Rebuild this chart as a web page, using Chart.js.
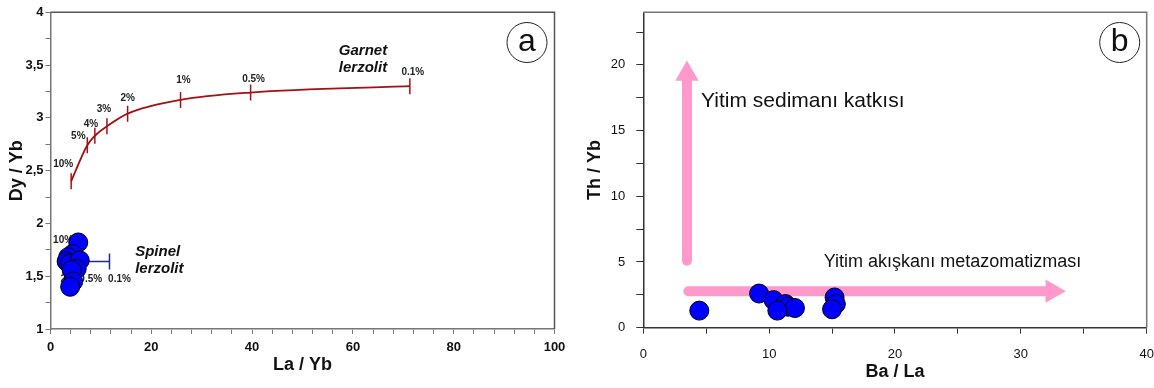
<!DOCTYPE html>
<html>
<head>
<meta charset="utf-8">
<script src="https://cdn.jsdelivr.net/npm/chart.js@4.4.0/dist/chart.umd.min.js"></script>
<style>
  html, body { margin: 0; padding: 0; background: #fff; }
  #wrap { position: relative; width: 1154px; height: 388px; }
  canvas { position: absolute; top: 0; }
  #chartA { left: 0; }
  #chartB { left: 577px; }
</style>
</head>
<body>
<div id="wrap">
  <canvas id="chartA" width="577" height="388"></canvas>
  <canvas id="chartB" width="577" height="388"></canvas>
</div>
<script>
/* Two panels: (a) La/Yb vs Dy/Yb melting curves, (b) Ba/La vs Th/Yb. */

// ---- Panel a data ----
const garnetX = [4.1, 7.3, 8.8, 11.2, 15.3, 25.8, 39.7, 71.3];
const garnetY = [2.40, 2.74, 2.83, 2.92, 3.04, 3.17, 3.24, 3.30];
const garnetLabels = ["10%", "5%", "4%", "3%", "2%", "1%", "0.5%", "0.1%"];
const spinelX = [2.3, 3.2, 6.0, 11.7];
const spinelY = [1.64, 1.64, 1.64, 1.64];
const spinelLabels = ["10%", "2%", "0.5%", "0.1%"];
const sampleLaYb = [5.5, 4.4, 3.5, 3.2, 3.9, 5.8, 5.2, 4.2, 4.5, 3.9];
const sampleDyYb = [1.82, 1.71, 1.68, 1.64, 1.62, 1.65, 1.57, 1.56, 1.45, 1.40];

// ---- Panel b data ----
const sampleBaLa = [4.45, 9.2, 10.35, 11.3, 11.5, 12.05, 10.65, 15.2, 15.3, 15.0];
const sampleThYb = [1.3, 2.6, 2.1, 1.8, 1.6, 1.5, 1.3, 2.3, 1.8, 1.4];
const sedimentArrowX = [3.47, 3.47];
const sedimentArrowY = [5.1, 19.3];
const fluidArrowX = [3.58, 32.5];
const fluidArrowY = [2.78, 2.78];

// label offsets in px (layout only)
const garnetLabelOffsets = [[-8, -17], [-9, -9], [-4, -12], [-3, -17], [0, -15], [3, -20], [3, -13], [3, -14]];
const spinelLabelOffsets = [[1, -21], [1, 18], [10, 18], [10, 18]];

const FONT = "'Liberation Sans', Arial, sans-serif";
const $ = (id) => document.getElementById(id);
const pts = (xs, ys) => xs.map((x, i) => ({ x, y: ys[i] }));
const near = (v, step) => Math.abs(v / step - Math.round(v / step)) < 1e-6;

function text(ctx, str, x, y, font, align = "left", color = "#111") {
  ctx.save();
  ctx.font = font; ctx.fillStyle = color; ctx.textAlign = align; ctx.textBaseline = "middle";
  ctx.fillText(str, x, y);
  ctx.restore();
}
function frame(chart, color) {
  const { ctx, chartArea: a } = chart;
  ctx.save();
  ctx.strokeStyle = color; ctx.lineWidth = 1.5;
  ctx.beginPath(); ctx.moveTo(a.left, a.top); ctx.lineTo(a.right, a.top); ctx.lineTo(a.right, a.bottom); ctx.stroke();
  ctx.restore();
}
function badge(ctx, letter, cx, cy) {
  ctx.save();
  ctx.strokeStyle = "#222"; ctx.lineWidth = 1;
  ctx.beginPath(); ctx.arc(cx, cy, 20, 0, Math.PI * 2); ctx.stroke();
  ctx.font = `32px ${FONT}`; ctx.fillStyle = "#111"; ctx.textAlign = "center"; ctx.textBaseline = "alphabetic";
  ctx.fillText(letter, cx, cy + 8.5);
  ctx.restore();
}

function axis(opts) {
  return {
    type: "linear", min: opts.min, max: opts.max,
    ticks: {
      stepSize: opts.step, autoSkip: false, maxRotation: 0, padding: opts.pad, color: "#111",
      font: { family: FONT, size: 13, weight: opts.bold ? "bold" : "normal" },
      callback: opts.label,
    },
    grid: { drawOnChartArea: false, drawTicks: true, tickLength: opts.tick, color: opts.color, lineWidth: 1 },
    border: { color: opts.color, width: 1.5 },
    title: { display: true, text: opts.title, color: "#111", font: { family: FONT, size: 18, weight: "bold" }, padding: opts.titlePad },
    afterFit: (s) => {
      opts.fit(s);
      s.paddingLeft = s.paddingRight = s.paddingTop = s.paddingBottom = 0;
    },
    afterBuildTicks: (s) => { s.ticks = s.ticks.filter((t) => near(t.value, opts.step)); },
  };
}

const common = {
  responsive: false, animation: false, events: [],
  plugins: { legend: { display: false }, tooltip: { enabled: false } },
};

// ---- Panel a ----
new Chart($("chartA"), {
  type: "scatter",
  data: { datasets: [
    { data: pts(sampleLaYb, sampleDyYb), backgroundColor: "#0000ff", borderColor: "#000", borderWidth: 1, pointRadius: 9.5, order: 0 },
    { data: pts(garnetX, garnetY), showLine: true, borderColor: "#a50f15", borderWidth: 1.8, cubicInterpolationMode: "monotone",
      pointStyle: "line", pointRotation: 90, pointRadius: 8, pointBorderWidth: 1.5, pointBorderColor: "#a50f15", order: 1 },
    { data: pts(spinelX, spinelY), showLine: true, borderColor: "#1c2a8c", borderWidth: 1.5,
      pointStyle: "line", pointRotation: 90, pointRadius: 8, pointBorderWidth: 1.5, pointBorderColor: "#1c2a8c", order: 2 },
  ] },
  options: {
    ...common,
    layout: { autoPadding: false, padding: { left: 0, right: 22.5, top: 12.3, bottom: 0 } },
    scales: {
      x: axis({ min: 0, max: 100, step: 4, pad: 6, tick: 5, bold: true, color: "#777", title: "La / Yb",
        titlePad: { top: 0, bottom: 12 }, label: (v) => near(v, 20) ? String(Math.round(v)) : "",
        fit: (s) => { s.height = 59; } }),
      y: axis({ min: 1, max: 4, step: 0.25, pad: 2, tick: 5, bold: true, color: "#777", title: "Dy / Yb",
        titlePad: { top: 6, bottom: 0 }, label: (v) => near(v, 0.5) ? String(+v.toFixed(1)).replace(".", ",") : "",
        fit: (s) => { s.width = 50.5; } }),
    },
  },
  plugins: [{
    id: "panelA",
    beforeDatasetsDraw(chart) {
      const { ctx, scales: { x, y } } = chart;
      const f = `bold 10px ${FONT}`;
      garnetLabels.forEach((t, i) => text(ctx, t, x.getPixelForValue(garnetX[i]) + garnetLabelOffsets[i][0], y.getPixelForValue(garnetY[i]) + garnetLabelOffsets[i][1], f, "center", "#222"));
      spinelLabels.forEach((t, i) => text(ctx, t, x.getPixelForValue(spinelX[i]) + spinelLabelOffsets[i][0], y.getPixelForValue(spinelY[i]) + spinelLabelOffsets[i][1], f, "center", "#222"));
    },
    afterDraw(chart) {
      const { ctx, scales: { x, y } } = chart;
      frame(chart, "#555");
      const f = `italic bold 15px ${FONT}`;
      text(ctx, "Garnet", x.getPixelForValue(57.2), y.getPixelForValue(3.633), f);
      text(ctx, "lerzolit", x.getPixelForValue(57.2), y.getPixelForValue(3.472), f);
      text(ctx, "Spinel", x.getPixelForValue(16.8), y.getPixelForValue(1.733), f);
      text(ctx, "lerzolit", x.getPixelForValue(16.8), y.getPixelForValue(1.567), f);
      badge(ctx, "a", 527, 42.5);
    },
  }],
});

// ---- Panel b ----
const PINK = "#ff99cc";
new Chart($("chartB"), {
  type: "scatter",
  data: { datasets: [
    { data: pts(sampleBaLa, sampleThYb), backgroundColor: "#0000ff", borderColor: "#000", borderWidth: 1, pointRadius: 9.5, order: 0 },
    { data: pts(sedimentArrowX, sedimentArrowY), showLine: true, borderColor: PINK, borderWidth: 10, borderCapStyle: "round",
      pointStyle: "triangle", pointRotation: 0, pointRadius: [0, 11.5], backgroundColor: PINK, pointBorderColor: PINK, pointBorderWidth: 2, order: 1 },
    { data: pts(fluidArrowX, fluidArrowY), showLine: true, borderColor: PINK, borderWidth: 10, borderCapStyle: "round",
      pointStyle: "triangle", pointRotation: 90, pointRadius: [0, 11.5], backgroundColor: PINK, pointBorderColor: PINK, pointBorderWidth: 2, order: 2 },
  ] },
  options: {
    ...common,
    layout: { autoPadding: false, padding: { left: 0, right: 7.3, top: 12.3, bottom: 0 } },
    scales: {
      x: axis({ min: 0, max: 40, step: 5, pad: 13, tick: 6, bold: false, color: "#333", title: "Ba / La",
        titlePad: { top: 0, bottom: 5.5 }, label: (v) => near(v, 10) ? String(Math.round(v)) : "",
        fit: (s) => { s.height = 60.3; } }),
      y: axis({ min: 0, max: 24, step: 2.5, pad: 11, tick: 7, bold: false, color: "#333", title: "Th / Yb",
        titlePad: { top: 7.2, bottom: 0 }, label: (v) => near(v, 5) ? String(Math.round(v)) : "",
        fit: (s) => { s.width = 66.3; } }),
    },
  },
  plugins: [{
    id: "panelB",
    afterDraw(chart) {
      const { ctx, scales: { x, y } } = chart;
      frame(chart, "#777");
      text(ctx, "Yitim sedimanı katkısı", x.getPixelForValue(4.59), y.getPixelForValue(17.25), `21px ${FONT}`);
      text(ctx, "Yitim akışkanı metazomatizması", x.getPixelForValue(14.34), y.getPixelForValue(5.0), `18px ${FONT}`);
      badge(ctx, "b", 542.7, 42.5);
    },
  }],
});
</script>
</body>
</html>
